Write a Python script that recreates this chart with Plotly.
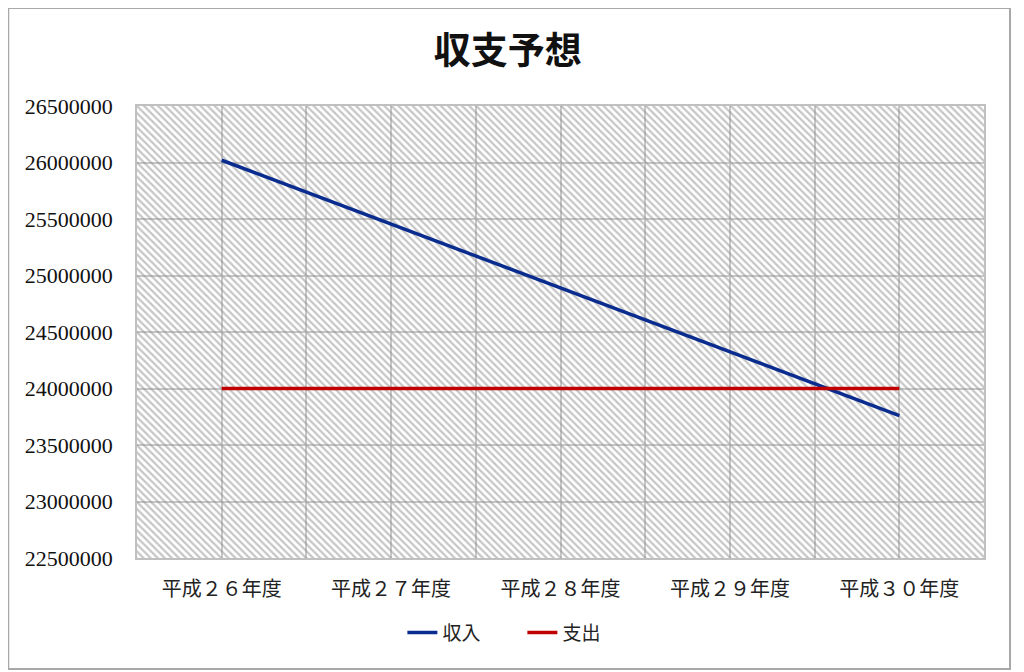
import plotly.graph_objects as go

title = "収支予想"
categories = ["平成２６年度", "平成２７年度", "平成２８年度", "平成２９年度", "平成３０年度"]
income = [26020000, 25455000, 24890000, 24325000, 23760000]
expense = [24000000, 24000000, 24000000, 24000000, 24000000]
y_min, y_max, y_step = 22500000, 26500000, 500000

x_idx = list(range(len(categories)))
x_lo, x_hi = -0.5, len(categories) - 0.5

fig = go.Figure()

# hatched plot-area background
fig.add_trace(go.Scatter(
    x=[x_lo, x_hi, x_hi, x_lo, x_lo],
    y=[y_min, y_min, y_max, y_max, y_min],
    mode="none", fill="toself",
    fillcolor="rgba(0,0,0,0)",
    fillpattern=dict(shape="\\", size=5, solidity=0.45,
                     fgcolor="#8c8c8c", bgcolor="rgba(255,255,255,0)"),
    showlegend=False, hoverinfo="skip",
))

fig.add_trace(go.Scatter(
    x=x_idx, y=income, name="収入", mode="lines",
    line=dict(color="#0a2c8e", width=3.5),
))
fig.add_trace(go.Scatter(
    x=x_idx, y=expense, name="支出", mode="lines",
    line=dict(color="#c00000", width=3.5),
))

fig.update_layout(
    width=1016, height=664,
    margin=dict(l=129, r=40, t=98, b=114),
    paper_bgcolor="white", plot_bgcolor="white",
    title=dict(text="<b>" + title + "</b>", x=0.492, xanchor="center",
               y=1 - 43 / 664, yanchor="middle",
               font=dict(family="Noto Sans CJK JP", size=37, color="#111111")),
    legend=dict(orientation="h", x=0.455, xanchor="center", y=-0.165, yanchor="middle",
                font=dict(family="Noto Sans CJK JP", size=19, color="#222222"),
                entrywidth=75, entrywidthmode="pixels",
                traceorder="normal"),
    showlegend=True,
)

fig.update_xaxes(
    range=[x_lo, x_hi], tickmode="array", tickvals=x_idx, ticktext=categories,
    showgrid=True, gridcolor="#c8c8c8", gridwidth=1.5,
    minor=dict(tickmode="array", tickvals=[i + 0.5 for i in range(-1, len(categories))],
               showgrid=True, gridcolor="#c8c8c8", gridwidth=1.5),
    showline=True, linecolor="#c0c0c0", linewidth=1.5, mirror=True,
    zeroline=False, ticks="", ticklen=0, ticklabelstandoff=12,
    tickfont=dict(family="Noto Sans CJK JP", size=20, color="#222222"),
)
fig.update_yaxes(
    range=[y_min, y_max], dtick=y_step, tick0=y_min,
    showgrid=True, gridcolor="#c8c8c8", gridwidth=1.5,
    showline=True, linecolor="#c0c0c0", linewidth=1.5, mirror=True,
    zeroline=False, ticks="", ticklabelstandoff=18,
    tickformat="d",
    tickfont=dict(family="Liberation Serif, DejaVu Serif, serif", size=22, color="#111111"),
)

# outer chart border
fig.add_shape(type="rect", xref="paper", yref="paper",
              x0=-0.152, x1=1.0307, y0=-0.2456, y1=1.2168,
              line=dict(color="#a8a8a8", width=2), fillcolor="rgba(0,0,0,0)", layer="below")

fig.write_html("out.html")
